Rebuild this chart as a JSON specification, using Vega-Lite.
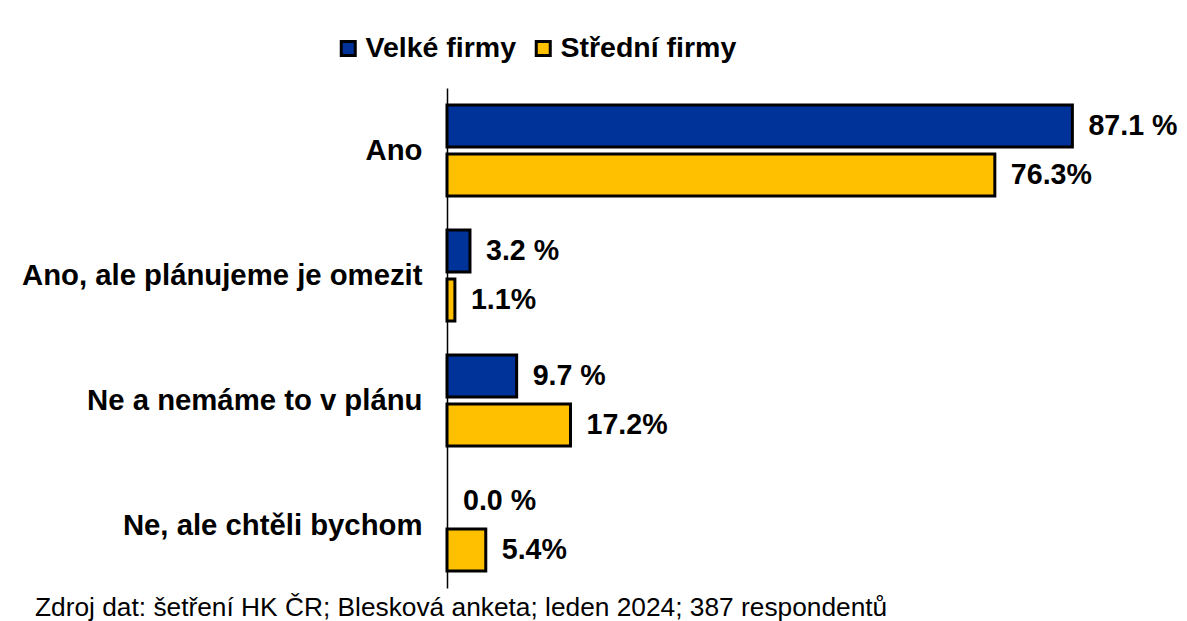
{
  "$schema": "https://vega.github.io/schema/vega-lite/v6.json",
  "width": 718,
  "height": 500,
  "autosize": "none",
  "padding": {"left": 447, "top": 88, "right": 22, "bottom": 33},
  "background": "white",
  "config": {"view": {"stroke": null}},
  "data": {
    "values": [
      {"answer": "Ano", "series": "Velké firmy", "value": 87.1, "label": "87.1 %"},
      {"answer": "Ano", "series": "Střední firmy", "value": 76.3, "label": "76.3%"},
      {"answer": "Ano, ale plánujeme je omezit", "series": "Velké firmy", "value": 3.2, "label": "3.2 %"},
      {"answer": "Ano, ale plánujeme je omezit", "series": "Střední firmy", "value": 1.1, "label": "1.1%"},
      {"answer": "Ne a nemáme to v plánu", "series": "Velké firmy", "value": 9.7, "label": "9.7 %"},
      {"answer": "Ne a nemáme to v plánu", "series": "Střední firmy", "value": 17.2, "label": "17.2%"},
      {"answer": "Ne, ale chtěli bychom", "series": "Velké firmy", "value": 0.0, "label": "0.0 %"},
      {"answer": "Ne, ale chtěli bychom", "series": "Střední firmy", "value": 5.4, "label": "5.4%"}
    ]
  },
  "encoding": {
    "y": {
      "field": "answer",
      "type": "nominal",
      "sort": ["Ano", "Ano, ale plánujeme je omezit", "Ne a nemáme to v plánu", "Ne, ale chtěli bychom"],
      "scale": {"paddingInner": 0.272, "paddingOuter": 0.136},
      "axis": {
        "title": null,
        "ticks": false,
        "labelFont": "Liberation Sans",
        "labelFontWeight": "bold",
        "labelFontSize": 29.3,
        "labelColor": "black",
        "labelPadding": 25,
        "labelLimit": 600,
        "domainColor": "black",
        "domainWidth": 1.5
      }
    },
    "yOffset": {
      "field": "series",
      "sort": ["Velké firmy", "Střední firmy"],
      "scale": {"paddingInner": 0.143, "paddingOuter": 0}
    },
    "x": {
      "field": "value",
      "type": "quantitative",
      "scale": {"domain": [0, 100]},
      "axis": null
    }
  },
  "layer": [
    {
      "mark": {"type": "bar", "stroke": "black", "strokeWidth": 3},
      "encoding": {
        "color": {
          "field": "series",
          "type": "nominal",
          "scale": {"domain": ["Velké firmy", "Střední firmy"], "range": ["#003399", "#FFC000"]},
          "legend": {
            "title": null,
            "orient": "none",
            "legendX": -113,
            "legendY": -54,
            "direction": "horizontal",
            "symbolType": "square",
            "symbolSize": 196,
            "symbolStrokeColor": "black",
            "symbolStrokeWidth": 3,
            "labelFont": "Liberation Sans",
            "labelFontWeight": "bold",
            "labelFontSize": 28.5,
            "labelColor": "black",
            "labelOffset": 3,
            "columnPadding": 12,
            "labelLimit": 400
          }
        },
        "strokeOpacity": {"condition": {"test": "datum.value === 0", "value": 0}, "value": 1}
      }
    },
    {
      "mark": {
        "type": "text",
        "align": "left",
        "baseline": "middle",
        "dx": 16,
        "font": "Liberation Sans",
        "fontWeight": "bold",
        "fontSize": 28.6,
        "color": "black"
      },
      "encoding": {"text": {"field": "label"}}
    }
  ],
  "title": {
    "text": "Zdroj dat: šetření HK ČR; Blesková anketa; leden 2024; 387 respondentů",
    "orient": "bottom",
    "anchor": "start",
    "frame": "group",
    "dx": -412,
    "offset": 7,
    "font": "Liberation Sans",
    "fontSize": 26.3,
    "fontWeight": "normal",
    "color": "black"
  }
}
